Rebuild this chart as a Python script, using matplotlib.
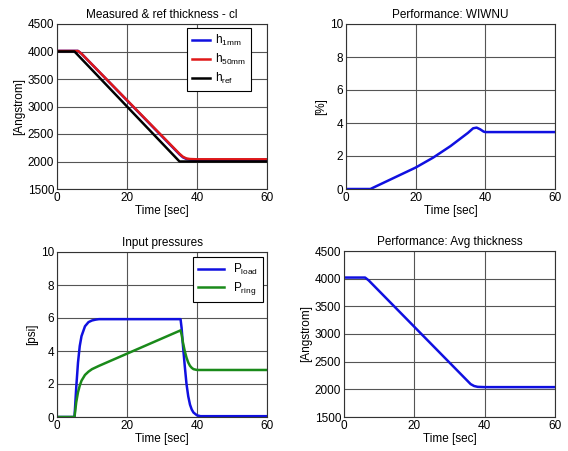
import matplotlib
matplotlib.use("Agg")
import matplotlib.pyplot as plt

plt.rcParams['font.family'] = ['Liberation Sans', 'DejaVu Sans']
plt.rcParams['mathtext.fontset'] = 'custom'
plt.rcParams['mathtext.rm'] = 'Liberation Sans'
plt.rcParams['mathtext.it'] = 'Liberation Sans'

# Measured & ref thickness
t_ref = [0, 5, 35, 60]
h_ref = [4000, 4000, 2000, 2000]
t_meas = [0, 6, 7, 35, 36, 37, 38, 40, 60]
h_1mm = [4010, 4010, 3960, 2130, 2075, 2045, 2035, 2030, 2030]
h_50mm = [4010, 4010, 3960, 2140, 2085, 2055, 2045, 2040, 2040]

# WIWNU
t_wiwnu = [0, 7, 10, 15, 20, 25, 30, 35, 36.5, 37.5, 38.5, 39.5, 40, 60]
wiwnu = [0, 0, 0.3, 0.8, 1.3, 1.9, 2.6, 3.4, 3.68, 3.72, 3.62, 3.48, 3.45, 3.45]

# Input pressures
t_load = [0, 5, 5.5, 6, 6.5, 7, 8, 9, 10, 11, 12, 35.3, 35.6, 36, 36.5, 37, 37.5, 38, 38.5, 39, 40, 41, 60]
p_load = [0, 0, 1.8, 3.3, 4.3, 4.9, 5.5, 5.75, 5.85, 5.9, 5.93, 5.93, 5.4, 4.3, 3.1, 2.0, 1.25, 0.75, 0.45, 0.27, 0.1, 0.05, 0.05]
t_ring = [0, 5, 5.5, 6, 6.5, 7, 8, 9, 10, 11, 12, 35.3, 35.6, 36, 36.5, 37, 37.5, 38, 38.5, 39, 40, 60]
p_ring = [0, 0, 0.9, 1.5, 1.9, 2.2, 2.55, 2.75, 2.9, 3.0, 3.1, 5.25, 5.0, 4.5, 4.0, 3.6, 3.3, 3.1, 2.98, 2.9, 2.85, 2.85]

# Avg thickness
t_avg = [0, 6, 7, 35, 36, 37, 38, 40, 60]
h_avg = [4020, 4020, 3970, 2160, 2095, 2060, 2045, 2040, 2040]

BLUE = '#1010e0'
RED = '#e01818'
GREEN = '#1a8a1a'
FS = 8.5

fig = plt.figure(figsize=(5.68, 4.51), dpi=100)
W, H = 568.0, 451.0

def make_ax(x0, x1, y0, y1):
    return fig.add_axes([x0 / W, 1 - y1 / H, (x1 - x0) / W, (y1 - y0) / H])

def style(ax, ylim, yticks, ylabel, title):
    ax.set_xlim(0, 60)
    ax.set_xticks([0, 20, 40, 60])
    ax.set_ylim(*ylim)
    ax.set_yticks(yticks)
    ax.grid(True, color='#555555', linewidth=0.8)
    ax.set_axisbelow(True)
    ax.tick_params(labelsize=FS, length=0, pad=2)
    ax.set_xlabel('Time [sec]', fontsize=FS, labelpad=1)
    ax.set_ylabel(ylabel, fontsize=FS, labelpad=2)
    ax.set_title(title, fontsize=FS, pad=4)
    for s in ax.spines.values():
        s.set_color('#333333')
        s.set_linewidth(0.8)

ax1 = make_ax(57, 267, 24, 189)
ax1.plot(t_meas, h_1mm, color=BLUE, lw=1.8, label=r'h$_{\mathrm{1mm}}$')
ax1.plot(t_meas, h_50mm, color=RED, lw=1.8, label=r'h$_{\mathrm{50mm}}$')
ax1.plot(t_ref, h_ref, color='black', lw=1.8, label=r'h$_{\mathrm{ref}}$')
style(ax1, (1500, 4500), range(1500, 4501, 500), '[Angstrom]', 'Measured & ref thickness - cl')
leg = ax1.legend(loc='upper right', bbox_to_anchor=(0.925, 0.975), fontsize=FS, fancybox=False,
                 edgecolor='black', handlelength=1.5, handletextpad=0.5, borderaxespad=0.0,
                 labelspacing=0.35, framealpha=1)
leg.get_frame().set_linewidth(0.8)

ax2 = make_ax(346, 555, 24, 189)
ax2.plot(t_wiwnu, wiwnu, color=BLUE, lw=1.8)
style(ax2, (0, 10), range(0, 11, 2), '[%]', 'Performance: WIWNU')

ax3 = make_ax(57, 267, 252, 417)
ax3.plot(t_load, p_load, color=BLUE, lw=1.8, label=r'P$_{\mathrm{load}}$')
ax3.plot(t_ring, p_ring, color=GREEN, lw=1.8, label=r'P$_{\mathrm{ring}}$')
style(ax3, (0, 10), range(0, 11, 2), '[psi]', 'Input pressures')
leg = ax3.legend(loc='upper right', bbox_to_anchor=(0.98, 0.97), fontsize=FS, fancybox=False,
                 edgecolor='black', handlelength=2.2, borderaxespad=0.0, labelspacing=0.3,
                 framealpha=1)
leg.get_frame().set_linewidth(0.8)

ax4 = make_ax(344, 555, 251, 417)
ax4.plot(t_avg, h_avg, color=BLUE, lw=1.8)
style(ax4, (1500, 4500), range(1500, 4501, 500), '[Angstrom]', 'Performance: Avg thickness')

fig.savefig('out.png', dpi=100)
